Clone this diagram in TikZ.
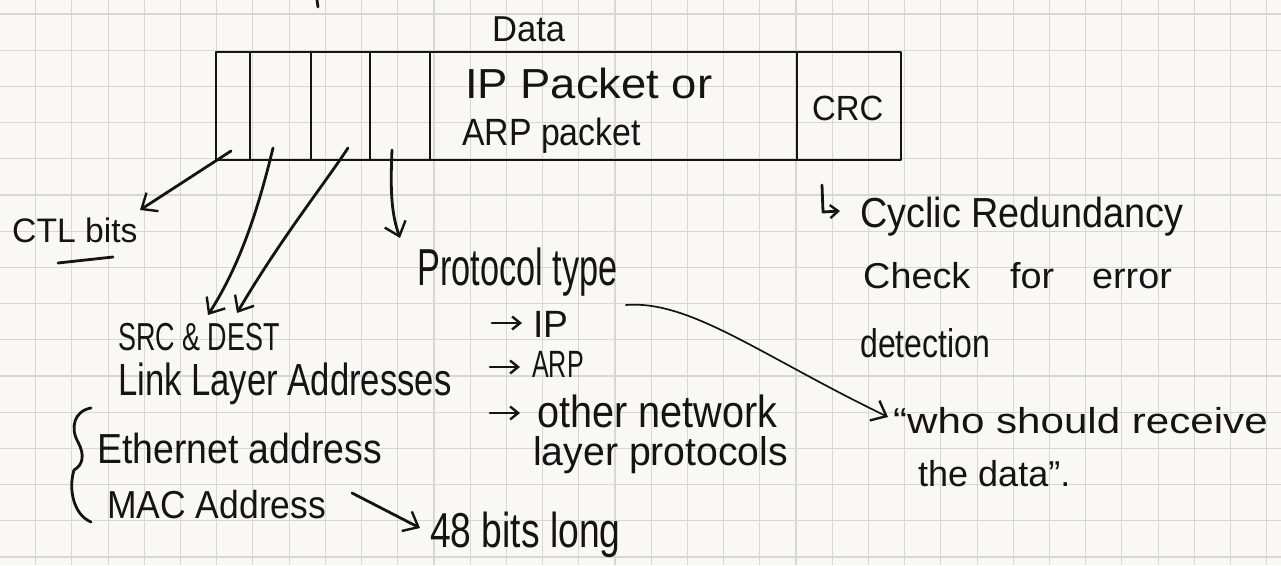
\documentclass[tikz,border=0pt]{standalone}
\usepackage{fontspec}
\usepackage{graphicx}
\setmainfont{Liberation Sans}
\usetikzlibrary{arrows.meta}
\definecolor{paper}{HTML}{F9F8F4}
\definecolor{gridc}{HTML}{D9D7D1}
\definecolor{ink}{HTML}{141414}
\newcommand\hwt[3]{\fontsize{#1}{#1}\selectfont\scalebox{#2}[1]{#3}}
\tikzset{
  pen/.style={draw=ink, line width=2.8pt, line cap=round, line join=round},
  thinpen/.style={draw=ink, line width=1.7pt, line cap=round},
  gridline/.style={draw=gridc, line width=1.1pt},
  cell/.style={pen, rectangle, inner sep=0pt, minimum height=108pt},
  hw/.style={inner sep=0pt, anchor=base west, text=ink},
  barb/.style={-{Straight Barb[length=13pt,width=22pt,line width=2.4pt]}},
  smallbarb/.style={-{Straight Barb[length=8pt,width=13pt,line width=2.4pt]}}
}
\begin{document}
\begin{tikzpicture}[x=1pt,y=-1pt]
\useasboundingbox (0,0) rectangle (1281,565);
\fill[paper] (0,0) rectangle (1281,565);
% grid paper
\foreach \k in {1,...,35} \draw[gridline] ({-0.5+36.206*\k},0) -- ({-0.5+36.206*\k},565);
\foreach \k in {0,...,15} \draw[gridline] (0,{14+36.2*\k}) -- (1281,{14+36.2*\k});

% frame cells
\node[cell, minimum width=34pt]  (c1) at (233,106) {};
\node[cell, minimum width=61pt]  (c2) at (280.5,106) {};
\node[cell, minimum width=59pt]  (c3) at (340.5,106) {};
\node[cell, minimum width=60pt]  (c4) at (400,106) {};
\node[cell, minimum width=367pt] (c5) at (613.5,106) {};
\node[cell, minimum width=104pt] (c6) at (849,106) {};
\coordinate (topmark) at (317,0);
\draw[pen] (topmark) -- (318,7);

% texts in the frame
\node[hw] (data) at (492,41.7) {\hwt{36}{0.96}{Data}};
\node[hw] (ipp)  at (465,98.3) {\hwt{42}{1.08}{IP Packet or}};
\node[hw] (arpp) at (462,145)  {\hwt{38}{0.89}{ARP packet}};
\node[hw] (crc)  at (812,120)  {\hwt{35}{0.94}{CRC}};

% left side labels
\node[hw] (ctl) at (12,242) {\hwt{34}{0.99}{CTL bits}};
\draw[pen] (58,263) -- (113,257);
\node[hw] (srcdest) at (118,350) {\hwt{39}{0.69}{SRC \& DEST}};
\node[hw] (lla) at (118,395) {\hwt{45}{0.77}{Link Layer Addresses}};
\node[hw] (eth) at (97,463) {\hwt{42}{0.89}{Ethernet address}};
\node[hw] (mac) at (107,518) {\hwt{39}{0.91}{MAC Address}};
\node[hw] (bits48) at (430,547) {\hwt{49}{0.76}{48 bits long}};
\draw[pen] (91,408) .. controls (74,411) and (70,428) .. (78,442)
  .. controls (85,455) and (83,465) .. (74,470)
  .. controls (68,490) and (74,515) .. (91,522);

% protocol type
\node[hw] (proto) at (417,285) {\hwt{52}{0.66}{Protocol type}};
\node[hw] (ip) at (533,337) {\hwt{38}{0.98}{IP}};
\node[hw] (arp) at (532,377) {\hwt{38}{0.66}{ARP}};
\node[hw] (other) at (537,427) {\hwt{45}{0.88}{other network}};
\node[hw] (layerp) at (533,465) {\hwt{40}{0.98}{layer protocols}};

% CRC explanation
\node[hw] (cyclic) at (860,227) {\hwt{42}{0.9}{Cyclic Redundancy}};
\node[hw] (check) at (863,288) {\hwt{36}{1.05}{Check\hspace{38pt}for\hspace{36pt}error}};
\node[hw] (detect) at (860,357) {\hwt{40}{0.8}{detection}};
\node[hw] (who) at (893,433) {\hwt{36}{1.17}{“who should receive}};
\node[hw] (thedata) at (918,486) {\hwt{36}{1.0}{the data”.}};

% connectors
\coordinate (ctlS) at (231,151);
\coordinate (ctlE) at (140,210);
\draw[pen, barb] (ctlS) -- (ctlE);

\coordinate (srcS) at (273,148);
\coordinate (srcE) at (208,315);
\draw[pen, barb] (srcS) .. controls (258,210) and (240,265) .. (srcE);
\coordinate (dstS) at (348,148);
\coordinate (dstE) at (237,313);
\draw[pen, barb] (dstS) .. controls (320,190) and (280,240) .. (dstE);

\coordinate (protS) at (392,150);
\coordinate (protE) at (400,238);
\draw[pen, barb] (protS) .. controls (390,195) and (392,215) .. (protE);

\coordinate (whoS) at (626,305);
\coordinate (whoE) at (888,417);
\draw[thinpen, barb] (whoS) .. controls (690,300) and (760,355) .. (whoE);

\coordinate (macS) at (352,493);
\coordinate (macE) at (420,528);
\draw[pen, barb] (macS) -- (macE);

\draw[pen, smallbarb] (492,323) -- (522,323);
\draw[pen, smallbarb] (490,367) -- (520,367);
\draw[pen, smallbarb] (490,413) -- (520,413);

\coordinate (crcA) at (822,185);
\draw[pen, smallbarb] (crcA) -- (823,212) -- (840,211);
\end{tikzpicture}
\end{document}
